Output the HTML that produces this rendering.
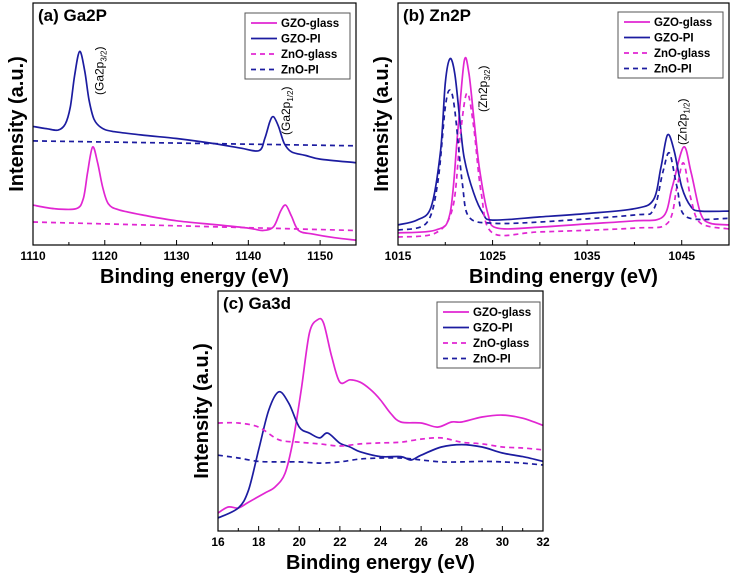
<!DOCTYPE html>
<html><head><meta charset="utf-8"><style>
body{margin:0;background:#fff;}
svg{display:block;font-family:"Liberation Sans",Arial,sans-serif;}
</style></head><body>
<svg id="fig" width="739" height="576" viewBox="0 0 739 576"></svg>
<script>
// ---- Panel (a) Ga2P data ----
const aGzoPiX=[1110,1112,1113.5,1114.5,1115.2,1115.8,1116.5,1117.2,1117.8,1118.5,1119.5,1121,1125,1130,1135,1139,1141.5,1142.3,1143,1143.5,1144.2,1145,1146,1148,1150,1155];
const aGzoPiY=[49,48,47.5,50,57,70,80,72,60,52,48.5,47,45.5,44,42,40,39,44,51,53,49,42,38.5,37,35.5,34];
const aGzoGlX=[1110,1113,1116,1117,1117.6,1118.3,1119,1119.7,1120.5,1122,1126,1130,1135,1140,1142,1143.5,1144.5,1145.2,1146,1147,1149,1152,1155];
const aGzoGlY=[16.5,15,15,19,30,40.5,34,24,17,14.5,12,10,8.5,7,6,7.5,14,16.5,12,6,4.5,3,2];
const aZnoGlX=[1110,1155];
const aZnoGlY=[9.5,6];
const aZnoPiX=[1110,1155];
const aZnoPiY=[43,41];
const aTicks=[1110,1120,1130,1140,1150];
// ---- Panel (b) Zn2P data ----
const bGzoPiX=[1015,1017,1018.5,1019.5,1020,1020.5,1021,1021.5,1022,1023,1024,1025,1030,1035,1040,1042,1042.8,1043.5,1044.2,1045,1046,1047,1050];
const bGzoPiY=[8.3,10.3,15.7,39,67,77,71,53,36,21.5,13,10.3,11.6,13,15,18.6,32,45.5,39,24,15.7,14,14];
const bGzoGlX=[1015,1019,1020.5,1021.3,1022,1022.5,1023,1023.6,1024.5,1025.5,1030,1035,1040,1043,1044,1045.2,1046,1047,1048,1050];
const bGzoGlY=[5,6.2,13,46,76,71,53,32,13,7,7.4,8.7,10,11.6,24,40.5,29.8,13,9,8.3];
const bZnoPiX=[1015,1018,1019.2,1020,1020.5,1021,1021.8,1022.5,1025,1030,1040,1042,1043,1043.7,1044.5,1045.5,1050];
const bZnoPiY=[6.2,9,25.6,57,64,56,25.6,11.6,9,9.5,12.4,14.5,30,38,24,11.6,11];
const bZnoGlX=[1015,1019,1020.8,1021.6,1022.3,1023,1023.8,1025,1030,1040,1043.5,1044.5,1045.2,1046,1047,1050];
const bZnoGlY=[3.3,5,15.7,46,62.8,48.8,21.5,5,5.4,7,9,24,33.9,18.6,9,6.6];
const bTicks=[1015,1025,1035,1045];
// ---- Panel (c) Ga3d data ----
const cGzoGlX=[16,16.5,17,17.5,18.3,18.8,19.3,19.7,20.1,20.5,20.9,21.2,21.6,22,22.5,23,23.5,24,24.5,25,26,26.8,27.5,28,29,30,31,32];
const cGzoGlY=[7.5,10,9.6,12,15.8,18.3,24,38,59,82.5,88,86.6,72.5,62,63,62,59,54.6,49,45.4,45,43.3,45.4,45.4,47.5,48.3,47,44];
const cGzoPiX=[16,17,17.5,18,18.5,19,19.5,20,20.5,21,21.4,22,22.5,23,24,25,25.5,26,27,28,29,30,31,32];
const cGzoPiY=[5.4,9.6,17,33.8,50.4,58,53,43.3,40.8,38.8,40.8,36.6,35,33,31,31,29.6,31.6,35,36,35,32.5,31,29];
const cZnoGlX=[16,17,18,19,20,21,22,23,24,25,26,27,28,29,30,31,32];
const cZnoGlY=[45,45,43.3,38,37,36.3,35.4,36.3,36.7,37,38.3,38.8,37,36.3,35,34.6,33.8];
const cZnoPiX=[16,17,18,19,20,21,22,23,24,25,26,27,28,29,30,31,32];
const cZnoPiY=[31.6,30.4,29,28.8,28.8,28.3,28.8,30,30.4,30.4,29.6,28.8,28.8,29,28.8,28.3,27.5];
const cTicks=[16,18,20,22,24,26,28,30,32];
const seriesNames=["GZO-glass","GZO-PI","ZnO-glass","ZnO-PI"];

const NS="http://www.w3.org/2000/svg";
const svg=document.getElementById('fig');
const MAG="#e126d2",BLU="#1c1ca0";
function mk(tag,attrs,parent){const e=document.createElementNS(NS,tag);for(const k in attrs)e.setAttribute(k,attrs[k]);(parent||svg).appendChild(e);return e;}
function smooth(pts){
  if(pts.length<3)return 'M'+pts.map(p=>p[0].toFixed(1)+','+p[1].toFixed(1)).join('L');
  let d='M'+pts[0][0].toFixed(1)+','+pts[0][1].toFixed(1);
  for(let i=0;i<pts.length-1;i++){
    const p0=pts[i-1]||pts[i],p1=pts[i],p2=pts[i+1],p3=pts[i+2]||p2;
    const t=0.16;
    const c1=[p1[0]+(p2[0]-p0[0])*t,p1[1]+(p2[1]-p0[1])*t];
    const c2=[p2[0]-(p3[0]-p1[0])*t,p2[1]-(p3[1]-p1[1])*t];
    c1[0]=Math.min(Math.max(c1[0],p1[0]),p2[0]);c2[0]=Math.min(Math.max(c2[0],p1[0]),p2[0]);
    d+='C'+c1[0].toFixed(1)+','+c1[1].toFixed(1)+' '+c2[0].toFixed(1)+','+c2[1].toFixed(1)+' '+p2[0].toFixed(1)+','+p2[1].toFixed(1);
  }
  return d;
}

function panel(p){
  const g=mk('g',{});
  
  
  const sx=v=>p.x0+(v-p.xmin)/(p.xmax-p.xmin)*(p.x1-p.x0);
  const sy=v=>p.y1-v/100*(p.y1-p.y0);
  const ser=[[p.s[0],p.s[1],MAG,null,'gzo-glass-line'],[p.s[2],p.s[3],BLU,null,'gzo-pi-line'],[p.s[4],p.s[5],MAG,'5,4','zno-glass-line'],[p.s[6],p.s[7],BLU,'5,4','zno-pi-line']];
  ser.forEach(s=>{
    const pts=s[0].map((xv,i)=>[sx(xv),sy(s[1][i])]);
    const a={d:smooth(pts),fill:'none',stroke:s[2],'stroke-width':1.7,'stroke-linejoin':'round'};
    if(s[3])a['stroke-dasharray']=s[3];
    const pth=mk('path',a,g);
    
    
  });
  const fr=mk('rect',{x:p.x0,y:p.y0,width:p.x1-p.x0,height:p.y1-p.y0,fill:'none',stroke:'#000','stroke-width':1.2},g);
  
  
  p.ticks.forEach((t,i)=>{
    const x=sx(t);
    const tk=mk('line',{x1:x,x2:x,y1:p.y1,y2:p.y1-5,stroke:'#000','stroke-width':1},g);
    
    
    if(i<p.ticks.length-1){const xm=sx((t+p.ticks[i+1])/2);mk('line',{x1:xm,x2:xm,y1:p.y1,y2:p.y1-3,stroke:'#000'},g);}
    const tl=mk('text',{x:x,y:p.y1+15,'font-size':12,'font-weight':'bold','text-anchor':'middle'},g);
    tl.textContent=t;
    
    
  });
  const xt=mk('text',{x:(p.x0+p.x1)/2,y:p.y1+38,'font-size':20,'font-weight':'bold','text-anchor':'middle'},g);
  xt.textContent='Binding energy (eV)';
  
  
  const yc=(p.y0+p.y1)/2;
  const yt=mk('text',{x:p.x0-10,y:yc,'font-size':20,'font-weight':'bold','text-anchor':'middle',transform:'rotate(-90 '+(p.x0-10)+' '+yc+')'},g);
  yt.textContent='Intensity (a.u.)';
  
  
  const ttl=mk('text',{x:p.x0+5,y:p.y0+18,'font-size':17,'font-weight':'bold'},g);
  ttl.textContent=p.title;
  
  
  const L=p.leg;
  const lb=mk('rect',{x:L[0],y:L[1],width:L[2],height:66,fill:'#fff',stroke:'#555','stroke-width':1},g);
  
  
  ser.forEach((s,i)=>{
    const yy=L[1]+10+i*15.5;
    const a={x1:L[0]+6,x2:L[0]+32,y1:yy,y2:yy,stroke:s[2],'stroke-width':1.7};
    if(s[3])a['stroke-dasharray']=s[3];
    mk('line',a,g);
    const lt=mk('text',{x:L[0]+36,y:yy+4,'font-size':11.5,'font-weight':'bold'},g);
    lt.textContent=seriesNames[i];
    
    
  });
  (p.ann||[]).forEach(an=>{
    const t=mk('text',{x:0,y:0,'font-size':12,transform:'translate('+sx(an[0])+','+an[1]+') rotate(-90)'},g);
    t.innerHTML=an[2]+'<tspan font-size="8" dy="3">'+an[3]+'</tspan><tspan dy="-3">)</tspan>';
    
    
  });
}
panel({id:'ga2p',x0:33,x1:356,y0:3,y1:245,xmin:1110,xmax:1155,title:'(a) Ga2P',ticks:aTicks,leg:[245,13,105],
  s:[aGzoGlX,aGzoGlY,aGzoPiX,aGzoPiY,aZnoGlX,aZnoGlY,aZnoPiX,aZnoPiY],
  ann:[[1119.8,95,'(Ga2p','3/2'],[1145.8,135,'(Ga2p','1/2']]});
panel({id:'zn2p',x0:398,x1:729,y0:3,y1:245,xmin:1015,xmax:1050,title:'(b) Zn2P',ticks:bTicks,leg:[618,12,105],
  s:[bGzoGlX,bGzoGlY,bGzoPiX,bGzoPiY,bZnoGlX,bZnoGlY,bZnoPiX,bZnoPiY],
  ann:[[1024.4,112,'(Zn2p','3/2'],[1045.5,145,'(Zn2p','1/2']]});
panel({id:'ga3d',x0:218,x1:543,y0:291,y1:531,xmin:16,xmax:32,title:'(c) Ga3d',ticks:cTicks,leg:[437,302,103],
  s:[cGzoGlX,cGzoGlY,cGzoPiX,cGzoPiY,cZnoGlX,cZnoGlY,cZnoPiX,cZnoPiY]});
</script>
</body></html>
